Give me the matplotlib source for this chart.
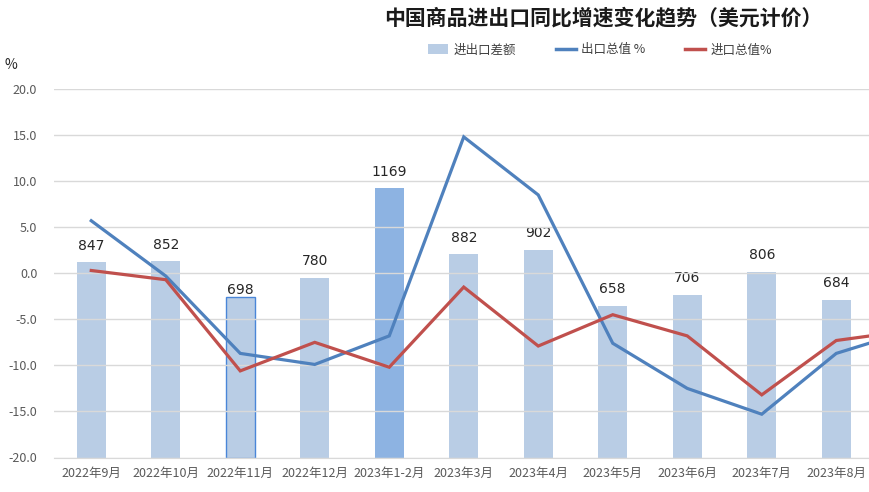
import numpy as np
import matplotlib
matplotlib.use("Agg")
import matplotlib.pyplot as plt
from matplotlib.patches import Patch
from matplotlib.lines import Line2D

plt.rcParams['font.family'] = ['Noto Sans CJK SC', 'DejaVu Sans']

# data (last month sits past the right edge of the picture)
months = ['2022年9月', '2022年10月', '2022年11月', '2022年12月', '2023年1-2月', '2023年3月',
          '2023年4月', '2023年5月', '2023年6月', '2023年7月', '2023年8月', '2023年9月']
balance = [847, 852, 698, 780, 1169, 882, 902, 658, 706, 806, 684, 771]   # 进出口差额
export_yoy = [5.7, -0.3, -8.7, -9.9, -6.8, 14.8, 8.5, -7.6, -12.5, -15.3, -8.7, -6.2]
import_yoy = [0.3, -0.7, -10.6, -7.5, -10.2, -1.5, -7.9, -4.5, -6.8, -13.2, -7.3, -6.2]

bar_col = '#B9CDE5'
dark_bar = '#8DB3E2'
blue = '#4F81BD'
red = '#C0504D'
grey_txt = '#595959'

fig = plt.figure(figsize=(8.7, 4.92), dpi=100)
# axes runs past the right border on purpose (picture is cropped)
ax = fig.add_axes([54 / 870, 34.5 / 492, 894 / 870, 368.5 / 492])
ax2 = ax.twinx()
ax.set_zorder(ax2.get_zorder() + 1)
ax.patch.set_visible(False)

x = np.arange(len(months))
n_shown = 11  # months visible inside the cropped picture

# bars on hidden secondary axis
colors = [bar_col] * len(months)
colors[4] = dark_bar
bars = ax2.bar(x, balance, width=0.39, color=colors, zorder=1)
bars[2].set_edgecolor('#4A86D8')
bars[2].set_linewidth(1.0)
ax2.set_ylim(0, 1600)
ax2.set_yticks([])
for s in ax2.spines.values():
    s.set_visible(False)

for i, b in enumerate(bars[:n_shown]):
    pad = 0 if i == 2 else 7
    ax2.annotate(str(balance[i]), (b.get_x() + b.get_width() / 2, b.get_height()),
                 xytext=(0, pad), textcoords='offset points', ha='center', va='bottom',
                 fontsize=10, color='#262626', family=['DejaVu Sans'])

# lines
ax.plot(x, export_yoy, color=blue, lw=2.3, solid_joinstyle='miter', zorder=3)
ax.plot(x, import_yoy, color=red, lw=2.3, solid_joinstyle='miter', zorder=3)

ax.set_ylim(-20, 20)
ax.set_yticks(np.arange(-20, 20.1, 5))
ax.set_yticklabels(['%.1f' % v for v in np.arange(-20, 20.1, 5)])
ax.set_xlim(-0.5, len(months) - 0.5)
ax.set_xticks(x[:n_shown])
ax.set_xticklabels(months[:n_shown])
ax.tick_params(axis='both', length=0, colors=grey_txt, labelsize=9)
ax.tick_params(axis='x', pad=7)
ax.tick_params(axis='y', pad=12)
ax.grid(axis='y', color='#D9D9D9', lw=1)
ax.set_axisbelow(False)
for s in ['top', 'right', 'left']:
    ax.spines[s].set_visible(False)
ax.spines['bottom'].set_color('#D9D9D9')

fig.text(603 / 870, 1 - 18 / 492, '中国商品进出口同比增速变化趋势（美元计价）',
         ha='center', va='center', fontsize=15, fontweight='bold', color='#1a1a1a')
fig.text(5 / 870, 1 - 65 / 492, '%', ha='left', va='center', fontsize=10, color='#262626')

handles = [Patch(facecolor=bar_col, edgecolor='none'),
           Line2D([0], [0], color=blue, lw=2.5),
           Line2D([0], [0], color=red, lw=2.5)]
fig.legend(handles, ['进出口差额', '出口总值 %', '进口总值%'], loc='center',
           bbox_to_anchor=(600 / 870, 1 - 50 / 492), ncol=3, frameon=False,
           fontsize=9, labelcolor='#404040', handlelength=1.6, handleheight=0.8,
           handletextpad=0.4, columnspacing=3.2)

fig.savefig('out.png', dpi=100)
